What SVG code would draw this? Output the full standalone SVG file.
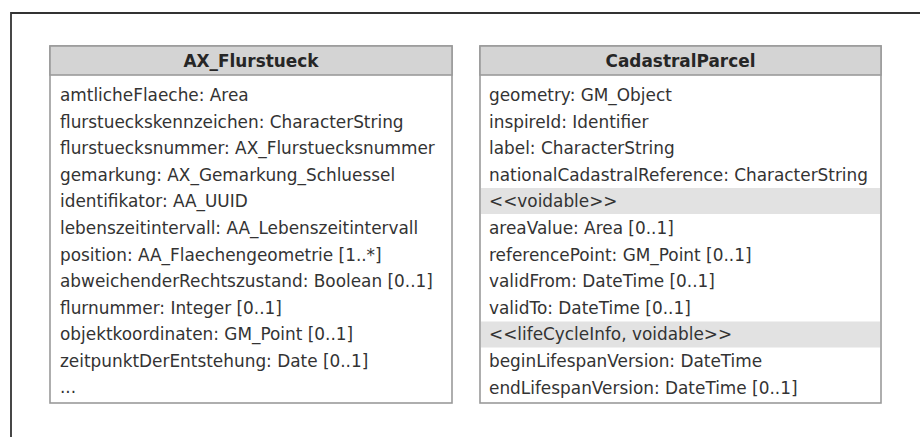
<svg xmlns="http://www.w3.org/2000/svg" width="920" height="437" viewBox="0 0 920 437">
<style>
.frame{fill:none;stroke:#333333;stroke-width:1.8}
.box{fill:#ffffff;stroke:#9a9a9a;stroke-width:1.6}
.hdr{fill:#d4d4d4;stroke:#9a9a9a;stroke-width:1.6}
.band{fill:#e2e2e2}
.title{font-family:"DejaVu Sans",Verdana,sans-serif;font-weight:bold;font-size:16.9px;fill:#262626;text-anchor:middle}
.attr{font-family:"DejaVu Sans",Verdana,sans-serif;font-size:16.9px;fill:#333333}
</style>
<rect width="920" height="437" fill="#ffffff"/>
<path class="frame" d="M11,437 V13 H920"/>
<g id="AX_Flurstueck">
<rect class="box" x="50" y="46" width="402" height="357"/>
<rect class="hdr" x="50" y="46" width="402" height="29"/>
<text class="title" x="251" y="66.5">AX_Flurstueck</text>
<text class="attr" x="60" y="101">amtlicheFlaeche: Area</text>
<text class="attr" x="60" y="127.6">flurstueckskennzeichen: CharacterString</text>
<text class="attr" x="60" y="154.2">flurstuecksnummer: AX_Flurstuecksnummer</text>
<text class="attr" x="60" y="180.8">gemarkung: AX_Gemarkung_Schluessel</text>
<text class="attr" x="60" y="207.4">identifikator: AA_UUID</text>
<text class="attr" x="60" y="234">lebenszeitintervall: AA_Lebenszeitintervall</text>
<text class="attr" x="60" y="260.6">position: AA_Flaechengeometrie [1..*]</text>
<text class="attr" x="60" y="287.2">abweichenderRechtszustand: Boolean [0..1]</text>
<text class="attr" x="60" y="313.8">flurnummer: Integer [0..1]</text>
<text class="attr" x="60" y="340.4">objektkoordinaten: GM_Point [0..1]</text>
<text class="attr" x="60" y="367">zeitpunktDerEntstehung: Date [0..1]</text>
<text class="attr" x="60" y="393">...</text>
</g>
<g id="CadastralParcel">
<rect class="box" x="480" y="46" width="401" height="357"/>
<rect class="hdr" x="480" y="46" width="401" height="29"/>
<rect class="band" x="481" y="188" width="399" height="26"/>
<rect class="band" x="481" y="321.5" width="399" height="26"/>
<text class="title" x="680.5" y="66.5">CadastralParcel</text>
<text class="attr" x="489" y="101">geometry: GM_Object</text>
<text class="attr" x="489" y="127.6">inspireId: Identifier</text>
<text class="attr" x="489" y="154.2">label: CharacterString</text>
<text class="attr" x="489" y="180.8">nationalCadastralReference: CharacterString</text>
<text class="attr" x="489" y="207.4">&lt;&lt;voidable&gt;&gt;</text>
<text class="attr" x="489" y="234">areaValue: Area [0..1]</text>
<text class="attr" x="489" y="260.6">referencePoint: GM_Point [0..1]</text>
<text class="attr" x="489" y="287.2">validFrom: DateTime [0..1]</text>
<text class="attr" x="489" y="313.8">validTo: DateTime [0..1]</text>
<text class="attr" x="489" y="340.4">&lt;&lt;lifeCycleInfo, voidable&gt;&gt;</text>
<text class="attr" x="489" y="367">beginLifespanVersion: DateTime</text>
<text class="attr" x="489" y="393.6">endLifespanVersion: DateTime [0..1]</text>
</g>
<g id="connectors"/>
</svg>
